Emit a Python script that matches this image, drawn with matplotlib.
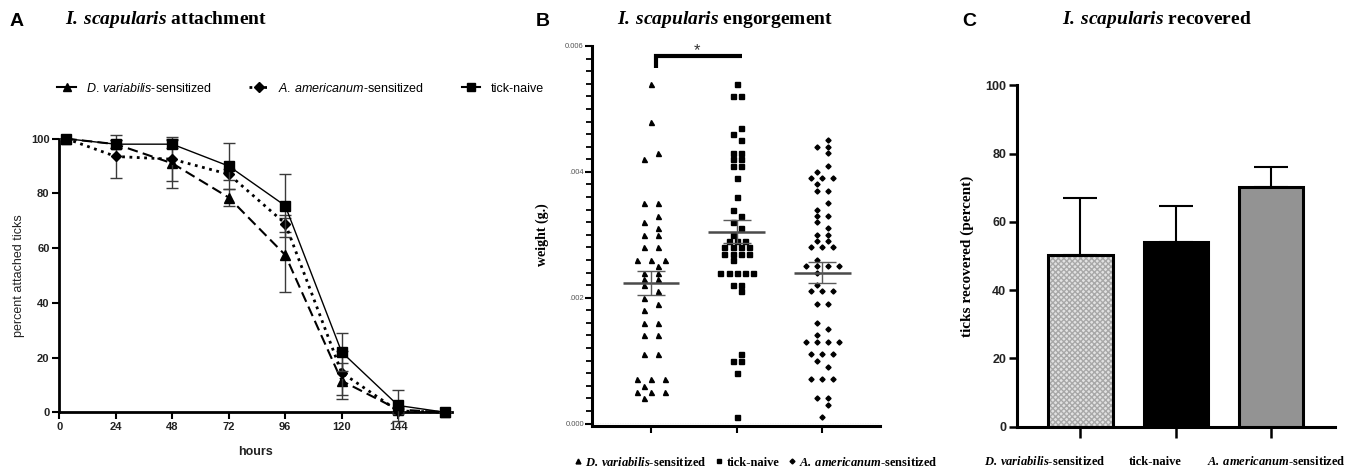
import matplotlib
matplotlib.use("Agg")
import matplotlib.pyplot as plt
import numpy as np
from matplotlib.lines import Line2D
from matplotlib.ticker import MultipleLocator, FixedLocator

plt.rcParams['mathtext.fontset'] = 'custom'
plt.rcParams['mathtext.it'] = 'Liberation Sans:italic'
plt.rcParams['mathtext.rm'] = 'Liberation Sans'
plt.rcParams['mathtext.bf'] = 'Liberation Serif:bold'
plt.rcParams['mathtext.bfit'] = 'Liberation Serif:italic:bold'
plt.rcParams['font.family'] = ['Liberation Sans', 'DejaVu Sans']

# ---------------- data ----------------
# Panel A: attachment over time
hours = [3, 24, 48, 72, 96, 120, 144, 164]
hour_ticks = [0, 24, 48, 72, 96, 120, 144]
dv_attach = [100, 98, 91, 78.5, 57.5, 11.5, 1, 0]
dv_attach_sem = [0, 1.5, 9, 3, 13.5, 6.5, 1, 0]
aa_attach = [100, 93.5, 92.5, 87, 69, 14.5, 0.5, 0]
aa_attach_sem = [0, 8, 8, 2, 3, 8, 1, 0]
tn_attach = [100, 98, 98, 90, 75.5, 22, 2.5, 0]
tn_attach_sem = [0, 1.5, 1.5, 8.5, 11.5, 7, 5.5, 0]

# Panel B: engorgement weights (g)
dv_weight = [0.0054, 0.0048, 0.0043, 0.0042, 0.0035, 0.0035, 0.0033, 0.0032, 0.0031,
             0.0030, 0.0030, 0.0028, 0.0028, 0.0026, 0.0026, 0.0026, 0.0025, 0.0024,
             0.0024, 0.0023, 0.0023, 0.0022, 0.0021, 0.0020, 0.0019, 0.0018, 0.0016,
             0.0016, 0.0014, 0.0014, 0.0011, 0.0011, 0.0007, 0.0007, 0.0007, 0.0006,
             0.0005, 0.0005, 0.0005, 0.0004]
tn_weight = [0.0054, 0.0052, 0.0052, 0.0047, 0.0046, 0.0045, 0.0043, 0.0043, 0.0042,
             0.0042, 0.0041, 0.0041, 0.0039, 0.0036, 0.0034, 0.0033, 0.0032, 0.0031,
             0.0030, 0.0029, 0.0029, 0.0029, 0.0028, 0.0028, 0.0028, 0.0028, 0.0027,
             0.0027, 0.0027, 0.0027, 0.0026, 0.0024, 0.0024, 0.0024, 0.0024, 0.0024,
             0.0022, 0.0022, 0.0021, 0.0011, 0.0010, 0.0010, 0.0008, 0.0001]
aa_weight = [0.0045, 0.0044, 0.0044, 0.0043, 0.0041, 0.0040, 0.0039, 0.0039, 0.0039,
             0.0038, 0.0037, 0.0037, 0.0035, 0.0034, 0.0033, 0.0033, 0.0032, 0.0031,
             0.0030, 0.0030, 0.0029, 0.0029, 0.0028, 0.0028, 0.0028, 0.0026, 0.0025,
             0.0025, 0.0025, 0.0025, 0.0024, 0.0022, 0.0021, 0.0021, 0.0021, 0.0019,
             0.0019, 0.0016, 0.0015, 0.0014, 0.0013, 0.0013, 0.0013, 0.0013, 0.0011,
             0.0011, 0.0011, 0.0010, 0.0009, 0.0007, 0.0007, 0.0007, 0.0004, 0.0004,
             0.0003, 0.0001]
weight_ticks = [0.0, 0.002, 0.004, 0.006]
weight_ticklabels = ['0.000', '.002', '.004', '0.006']

# Panel C: recovered
rec_labels = [r'$\mathbfit{D.\,variabilis}$-sensitized', 'tick-naive',
              r'$\mathbfit{A.\,americanum}$-sensitized']
rec_values = [50.3, 54.2, 70.1]
rec_sem = [16.6, 10.4, 6.0]
rec_ticks = [0, 20, 40, 60, 80, 100]

lbl_dv_sans = r'$\mathit{D.\,variabilis}$-sensitized'
lbl_aa_sans = r'$\mathit{A.\,americanum}$-sensitized'
lbl_dv_serif = r'$\mathbfit{D.\,variabilis}$-sensitized'
lbl_aa_serif = r'$\mathbfit{A.\,americanum}$-sensitized'

W, H = 1351, 472
fig = plt.figure(figsize=(W / 100, H / 100), dpi=100)


def fx(px):
    return px / W


def fy(py):
    return 1 - py / H


SERIF = 'Liberation Serif'

# ---------------- Panel A ----------------
axA = fig.add_axes([fx(59.3), fy(412.3), 393 / W, (412.3 - 138.7) / H])
ecol = '#3a3a3a'
axA.errorbar(hours, dv_attach, yerr=dv_attach_sem, color='k', ls=(0, (5, 2.5)), lw=1.5,
             marker='^', ms=7, ecolor=ecol, elinewidth=1, capsize=4, clip_on=False, zorder=3)
axA.errorbar(hours, aa_attach, yerr=aa_attach_sem, color='k', ls=':', lw=2.0,
             marker='D', ms=5.5, ecolor=ecol, elinewidth=1, capsize=4, clip_on=False, zorder=4)
axA.errorbar(hours, tn_attach, yerr=tn_attach_sem, color='k', ls='-', lw=1.0,
             marker='s', ms=7, ecolor=ecol, elinewidth=1, capsize=4, clip_on=False, zorder=5)
axA.set_xlim(0, 167)
axA.set_ylim(0, 100)
axA.set_xticks(hour_ticks)
axA.set_yticks([0, 20, 40, 60, 80, 100])
for s in ['top', 'right']:
    axA.spines[s].set_visible(False)
for s in ['left', 'bottom']:
    axA.spines[s].set_linewidth(2)
axA.tick_params(direction='out', length=5, width=1.5, labelsize=8, pad=2)
for t in axA.get_xticklabels() + axA.get_yticklabels():
    t.set_fontweight('bold')
    t.set_color('#222222')
axA.set_xlabel('hours', fontsize=9, fontweight='bold', color='#222222', labelpad=10)
axA.set_ylabel('percent attached ticks', fontsize=9, color='#222222', labelpad=4)

handlesA = [Line2D([], [], color='k', ls='-', lw=1.5, marker='^', ms=6),
            Line2D([], [], color='k', ls=':', lw=2, marker='D', ms=5),
            Line2D([], [], color='k', ls='-', lw=1.5, marker='s', ms=6)]
fig.legend(handlesA, [lbl_dv_sans, lbl_aa_sans, 'tick-naive'], loc='center left',
           bbox_to_anchor=(fx(46), fy(88)), ncol=3, frameon=False, fontsize=9,
           handlelength=1.5, handletextpad=0.8, columnspacing=3.0)

# ---------------- Panel B ----------------
axB = fig.add_axes([fx(592.3), fy(423.5), 287.7 / W, 377.5 / H])
axB.set_xlim(-0.685, 2.673)
axB.set_ylim(0, 0.006)


def row_offsets(vals, step):
    vals = np.asarray(vals)
    keys = np.round(vals * 10000).astype(int)
    kset = set(keys.tolist())
    offs = np.zeros(len(vals))
    for k in np.unique(keys):
        idx = np.where(keys == k)[0]
        n = len(idx)
        o = (np.arange(n) - (n - 1) / 2) * step
        if n == 1 and ((k - 1) in kset or (k + 1) in kset):
            o = o + (0.5 * step if k % 2 else -0.5 * step)
        offs[idx] = o
    return offs


groupsB = [(dv_weight, '^', 3.6, 0.165), (tn_weight, 's', 3.6, 0.095), (aa_weight, 'D', 2.6, 0.13)]
for i, (vals, mk, ms, step) in enumerate(groupsB):
    vals = np.asarray(vals)
    xs = i + row_offsets(vals, step)
    axB.plot(xs, vals, ls='none', marker=mk, ms=ms, color='k', clip_on=False, zorder=3)
    m = vals.mean()
    se = vals.std(ddof=1) / np.sqrt(len(vals))
    axB.hlines(m, i - 0.33, i + 0.33, color='#4a4a4a', lw=1.8, zorder=4)
    axB.hlines([m - se, m + se], i - 0.165, i + 0.165, color='#5a5a5a', lw=1.0, zorder=4)
    axB.vlines(i, m - se, m + se, color='#5a5a5a', lw=1.0, zorder=4)

axB.axhline(0, color='#888888', lw=0.9, ls=(0, (1, 1)), zorder=1)
for s in ['top', 'right']:
    axB.spines[s].set_visible(False)
axB.spines['left'].set_linewidth(2.2)
axB.spines['bottom'].set_linewidth(2.2)
axB.spines['bottom'].set_position(('outward', 2))
axB.set_xticks([0, 1, 2])
axB.set_xticklabels([])
axB.yaxis.set_major_locator(FixedLocator(weight_ticks))
axB.set_yticklabels(weight_ticklabels)
axB.yaxis.set_minor_locator(MultipleLocator(0.0002))
axB.tick_params(axis='y', which='major', direction='out', length=5, width=1.5,
                labelsize=5.5, labelcolor='#555555', pad=1)
axB.tick_params(axis='y', which='minor', direction='out', length=4, width=1.3)
axB.tick_params(axis='x', direction='out', length=5, width=1.5)
axB.set_ylabel('weight (g.)', fontsize=10, fontweight='bold', family=SERIF, labelpad=12)

# significance bracket
axB.plot([0.055, 0.055, 1.058], [0.00565, 0.00584, 0.00584], color='k', lw=3,
         clip_on=False, solid_joinstyle='miter', solid_capstyle='butt')
axB.text(0.533, 0.00593, '*', ha='center', va='center', fontsize=12, color='#333333',
         clip_on=False)

handlesB = [Line2D([], [], ls='none', marker='^', ms=3.5, color='k'),
            Line2D([], [], ls='none', marker='s', ms=3.5, color='k'),
            Line2D([], [], ls='none', marker='D', ms=2.5, color='k')]
fig.legend(handlesB, [lbl_dv_serif, 'tick-naive', lbl_aa_serif], loc='center',
           bbox_to_anchor=(fx(756), fy(462)), ncol=3, frameon=False,
           prop={'family': SERIF, 'weight': 'bold', 'size': 9},
           handlelength=0.6, handletextpad=0.3, columnspacing=0.7)

# ---------------- Panel C ----------------
axC = fig.add_axes([fx(1017.3), fy(426.7), 317.7 / W, 341.4 / H])
xC = np.arange(len(rec_values))
axC.errorbar(xC, rec_values, yerr=[np.zeros(len(rec_sem)), rec_sem], fmt='none',
             ecolor='k', elinewidth=1.5, capsize=12, capthick=1.5, zorder=1)
axC.bar(xC[:1], rec_values[:1], width=0.674, color='#e2e2e2', hatch='xxxxxx',
        edgecolor='#a8a8a8', linewidth=0, zorder=2)
axC.bar(xC, rec_values, width=0.674, color=['none', 'black', '#939393'],
        edgecolor='k', linewidth=2.2, zorder=3)
axC.set_xlim(-0.662, 2.668)
axC.set_ylim(0, 100)
axC.set_yticks(rec_ticks)
axC.set_xticks(xC)
axC.set_xticklabels([])
label_shift_px = [-36, -21, 5]
for xi, lab, dx in zip(xC, rec_labels, label_shift_px):
    axC.annotate(lab, xy=(xi, 0), xycoords=('data', 'axes fraction'),
                 xytext=(dx, -38), textcoords='offset pixels', ha='center', va='baseline',
                 family=SERIF, fontweight='bold', fontsize=9, annotation_clip=False)
for s in ['top', 'right']:
    axC.spines[s].set_visible(False)
for s in ['left', 'bottom']:
    axC.spines[s].set_linewidth(2.2)
axC.tick_params(axis='y', direction='out', length=6, width=1.8, labelsize=9, pad=2)
axC.tick_params(axis='x', direction='out', length=8, width=1.8)
for t in axC.get_yticklabels():
    t.set_fontweight('bold')
    t.set_color('#222222')
axC.set_ylabel('ticks recovered (percent)', fontsize=11, fontweight='bold', family=SERIF,
               labelpad=8)

# ---------------- titles / letters ----------------
title_kw = dict(family=SERIF, fontweight='bold', fontsize=14, va='center', ha='left')
fig.text(fx(65), fy(19), r'$\mathbfit{I.\,scapularis}$ attachment', **title_kw)
fig.text(fx(617), fy(19), r'$\mathbfit{I.\,scapularis}$ engorgement', **title_kw)
fig.text(fx(1062), fy(19), r'$\mathbfit{I.\,scapularis}$ recovered', **title_kw)
letter_kw = dict(fontsize=14, fontweight='bold', va='center', ha='left')
fig.text(fx(10), fy(21), 'A', **letter_kw)
fig.text(fx(536), fy(21), 'B', **letter_kw)
fig.text(fx(962), fy(21), 'C', **letter_kw)

fig.savefig('out.png', dpi=100)
